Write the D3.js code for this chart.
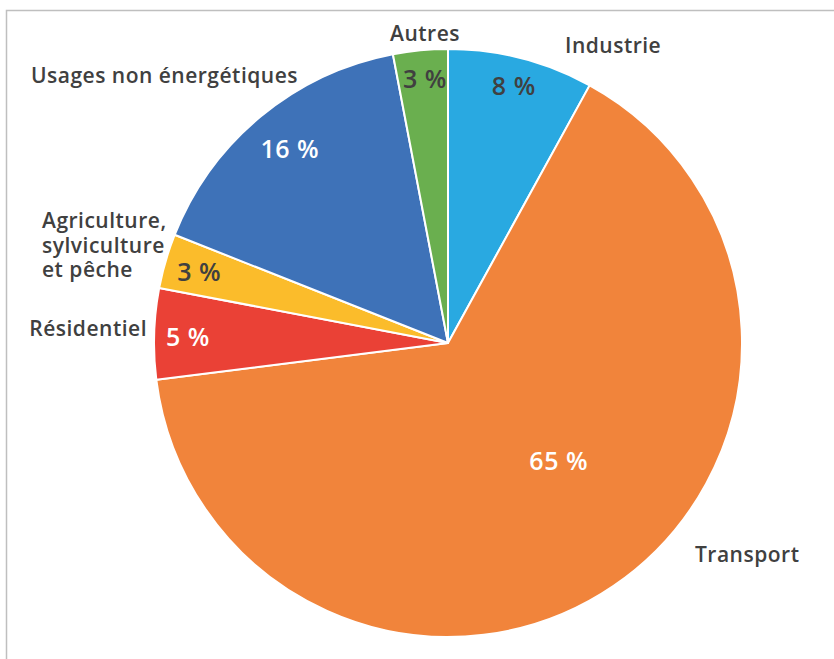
<!DOCTYPE html>
<html>
<head>
<meta charset="utf-8">
<script src="https://cdn.jsdelivr.net/npm/d3@7"></script>
<style>
  body { margin: 0; background: #fff; }
  svg { display: block; }
</style>
</head>
<body>
<svg id="pie-svg" width="834" height="659"></svg>
<script>
const categories = ['Industrie', 'Transport', 'Résidentiel', 'Agriculture, sylviculture et pêche', 'Usages non énergétiques', 'Autres']
const shares = [8, 65, 5, 3, 16, 3]
const percentLabels = ['8 %', '65 %', '5 %', '3 %', '16 %', '3 %']
const nameLines = [['Industrie'], ['Transport'], ['Résidentiel'], ['Agriculture,', 'sylviculture', 'et pêche'], ['Usages non énergétiques'], ['Autres']]

const colors = ['#29a9e1', '#f1843b', '#ea4136', '#fbbc2b', '#3e72b8', '#6aaf4f']
// white or dark text inside each slice
const percentColors = ['#404040', '#ffffff', '#ffffff', '#404040', '#ffffff', '#404040']
// where the percentage sits: fraction of radius, angle shift (deg) from the slice middle
const percentPlacement = [[0.9, 0], [0.55, -9], [0.885, -0.5], [0.88, -0.4], [0.85, 0.3], [0.9, 0.4]]
// category labels: x, y of first baseline, anchor
const namePlacement = [[565, 53, 'start'], [695, 562, 'start'], [147, 336, 'end'], [42, 228, 'start'], [298, 83, 'end'], [425, 41, 'middle']]

const FONT = "'Open Sans', 'Lato', sans-serif"

function displayPie() {
    const svg = d3.select('#pie-svg')
    const cx = 448, cy = 343, radius = 294

    // frame
    svg.append('path')
        .attr('d', 'M6.5,659 V10.5 H834')
        .attr('fill', 'none')
        .attr('stroke', '#bfbfbf')
        .attr('stroke-width', 1.5)

    const g = svg.append('g')
        .attr('transform', `translate(${cx},${cy})`)

    const pie = d3.pie().sort(null).value(d => d)
    const arcs = pie(shares)
    const arc = d3.arc().innerRadius(0).outerRadius(radius)

    g.selectAll('path.slice')
        .data(arcs)
        .enter()
        .append('path')
        .attr('class', 'slice')
        .attr('d', arc)
        .attr('fill', (d, i) => colors[i])
        .attr('stroke', '#fff')
        .attr('stroke-width', 2)
        .attr('stroke-linejoin', 'round')

    // percentages inside the slices
    const angleOf = (d, i) => (d.startAngle + d.endAngle) / 2 + percentPlacement[i][1] * Math.PI / 180
    g.selectAll('text.pct')
        .data(arcs)
        .enter()
        .append('text')
        .attr('class', 'pct')
        .attr('x', (d, i) => Math.sin(angleOf(d, i)) * radius * percentPlacement[i][0])
        .attr('y', (d, i) => -Math.cos(angleOf(d, i)) * radius * percentPlacement[i][0])
        .attr('dy', '0.35em')
        .attr('text-anchor', 'middle')
        .style('font-family', FONT)
        .style('font-weight', 600)
        .style('font-size', '25px')
        .style('letter-spacing', '0.5px')
        .style('fill', (d, i) => percentColors[i])
        .text((d, i) => percentLabels[i])

    // category names, one text per line
    categories.forEach((c, i) => {
        const [x, y, anchor] = namePlacement[i]
        nameLines[i].forEach((line, k) => {
            svg.append('text')
                .attr('x', x)
                .attr('y', y + k * 24.5)
                .attr('text-anchor', anchor)
                .style('font-family', FONT)
                .style('font-weight', 600)
                .style('font-size', '21px')
                .style('letter-spacing', '0.5px')
                .style('fill', '#404040')
                .text(line)
        })
    })
}

displayPie()
</script>
</body>
</html>
